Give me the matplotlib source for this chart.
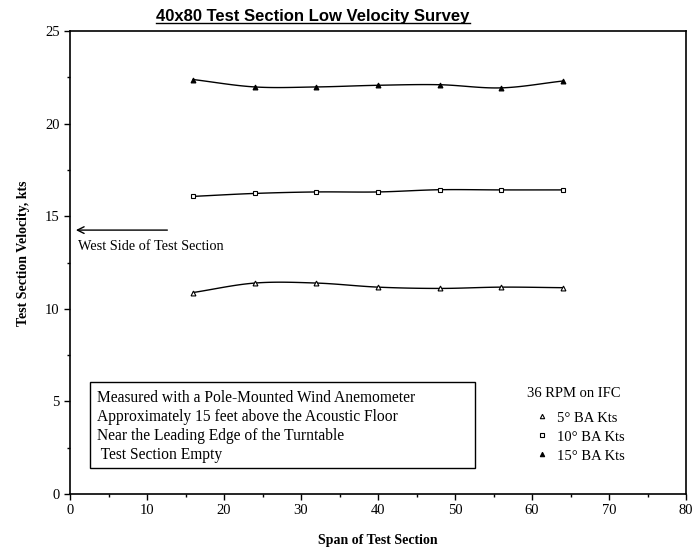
import matplotlib
matplotlib.use("Agg")
import matplotlib.pyplot as plt
import numpy as np
from matplotlib.ticker import MultipleLocator
from matplotlib.patches import Rectangle

plt.rcParams['font.family'] = ['Liberation Serif', 'DejaVu Serif']

# span positions
span = [16, 24, 32, 40, 48, 56, 64]
# velocities, kts
ba5 = [10.88, 11.39, 11.39, 11.17, 11.10, 11.17, 11.14]
ba10 = [16.07, 16.23, 16.31, 16.31, 16.43, 16.42, 16.42]
ba15 = [22.38, 21.98, 21.98, 22.07, 22.10, 21.93, 22.30]
labels = ["5\u00b0 BA Kts", "10\u00b0 BA Kts", "15\u00b0 BA Kts"]

notes = ["Measured with a Pole-Mounted Wind Anemometer",
         "Approximately 15 feet above the Acoustic Floor",
         "Near the Leading Edge of the Turntable",
         " Test Section Empty"]


def smooth(x, y, n=20):
    # catmull-rom style smoothing like excel's smoothed line
    x = np.asarray(x, float)
    y = np.asarray(y, float)
    px = np.concatenate([[2*x[0]-x[1]], x, [2*x[-1]-x[-2]]])
    py = np.concatenate([[2*y[0]-y[1]], y, [2*y[-1]-y[-2]]])
    xs, ys = [], []
    t = np.linspace(0, 1, n)
    for i in range(1, len(px)-2):
        for arr, out in ((px, xs), (py, ys)):
            p0, p1, p2, p3 = arr[i-1], arr[i], arr[i+1], arr[i+2]
            out.extend(0.5*((2*p1) + (-p0+p2)*t + (2*p0-5*p1+4*p2-p3)*t**2
                            + (-p0+3*p1-3*p2+p3)*t**3))
    return xs, ys


fig = plt.figure(figsize=(6.94, 5.52), dpi=100)
ax = fig.add_axes([0.1009, 0.1051, 0.8876, 0.8387])

styles = [dict(marker='^', mfc='white'), dict(marker='s', mfc='white'),
          dict(marker='^', mfc='black')]
handles = []
for vals, lab, st in zip([ba5, ba10, ba15], labels, styles):
    sx, sy = smooth(span, vals)
    ax.plot(sx, sy, color='black', lw=1.0)
    h, = ax.plot(span, vals, ls='none', mec='black', ms=3.5, mew=0.8,
                 label=lab, **st)
    handles.append(h)

ax.set_xlim(0, 80)
ax.set_ylim(0, 25)
ax.xaxis.set_major_locator(MultipleLocator(10))
ax.xaxis.set_minor_locator(MultipleLocator(5))
ax.yaxis.set_major_locator(MultipleLocator(5))
ax.yaxis.set_minor_locator(MultipleLocator(2.5))
ax.tick_params(which='major', direction='out', length=4, width=1, labelsize=10.5)
ax.tick_params(which='minor', direction='out', length=2.5, width=1)
for s in ax.spines.values():
    s.set_linewidth(1.2)

ax.set_xlabel("Span of Test Section", fontsize=10, fontweight='bold')
ax.xaxis.set_label_coords(0.5, -0.087)
ax.set_ylabel("Test Section Velocity, kts", fontsize=10, fontweight='bold',
              va='center')
ax.yaxis.set_label_coords(-0.076, 0.52)

# arrow to west side
ax.annotate("", xy=(0.4, 14.25), xytext=(13.0, 14.25),
            arrowprops=dict(arrowstyle='->', color='black', lw=1.0,
                            mutation_scale=12))
ax.text(1.0, 13.35, "West Side of Test Section", fontsize=10.3, va='center')

# notes box
ax.add_patch(Rectangle((2.6, 1.41), 50.0, 4.64, fill=False, ec='black', lw=1.0))
for i, line in enumerate(notes):
    ax.text(3.5, 5.2 - 1.03*i, line, fontsize=11.2, va='center', ha='left')

ax.text(59.35, 5.4, "36 RPM on IFC", fontsize=10.5, va='center', ha='left')
ax.legend(handles=handles, loc='center left', bbox_to_anchor=(60.1, 3.08),
          bbox_transform=ax.transData, frameon=False, fontsize=10.5,
          handlelength=1.2, handletextpad=0.45, labelspacing=0.4,
          borderpad=0, borderaxespad=0, markerscale=0.9)

# title, underlined
t = fig.text(0.451, 0.962, "40x80 Test Section Low Velocity Survey",
             family=['Liberation Sans', 'DejaVu Sans'], fontsize=12,
             fontweight='bold', ha='center', va='baseline')
fig.canvas.draw()
bb = t.get_window_extent().transformed(fig.transFigure.inverted())
fig.add_artist(plt.Line2D([bb.x0, bb.x1], [bb.y0 + 0.001, bb.y0 + 0.001],
                          color='black', lw=1.0, transform=fig.transFigure))

fig.savefig("out.png", dpi=100)
